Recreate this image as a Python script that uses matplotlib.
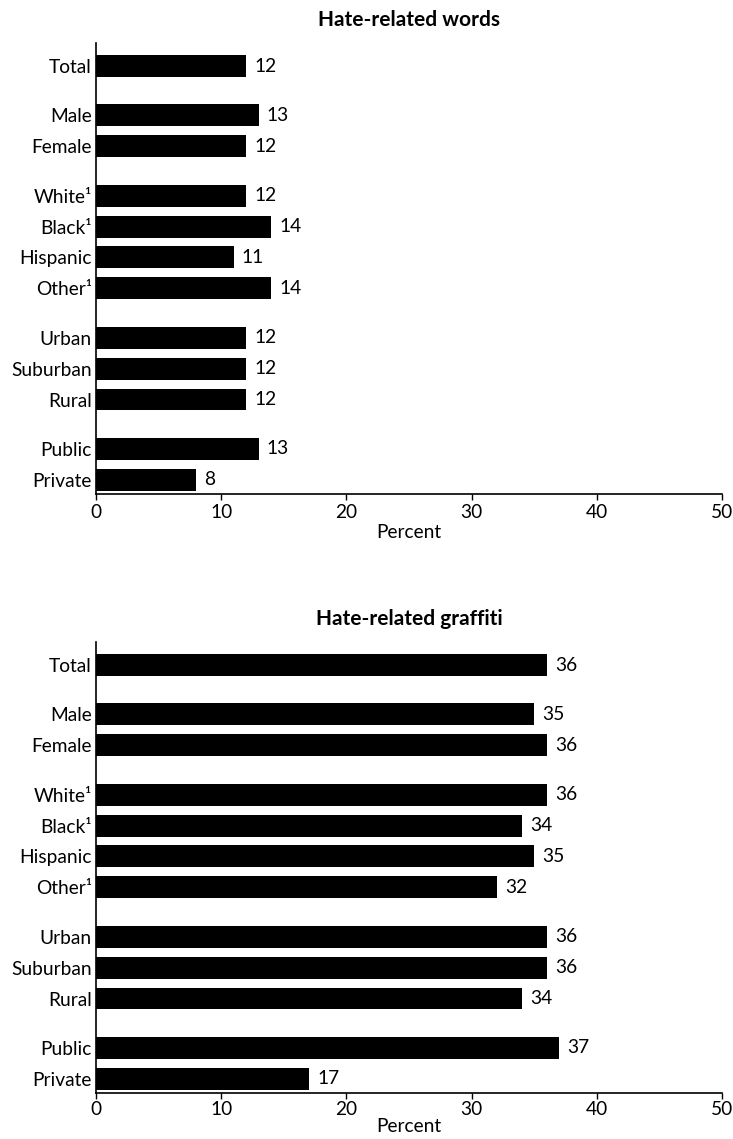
import matplotlib
matplotlib.use("Agg")
import matplotlib.pyplot as plt

plt.rcParams['font.family'] = ['Lato', 'DejaVu Sans']

categories = ["Total", "Male", "Female", "White\u00b9", "Black\u00b9", "Hispanic",
              "Other\u00b9", "Urban", "Suburban", "Rural", "Public", "Private"]
# group index of each category (gaps between groups)
groups = [0, 1, 1, 2, 2, 2, 2, 3, 3, 3, 4, 4]
words = [12, 13, 12, 12, 14, 11, 14, 12, 12, 12, 13, 8]
graffiti = [36, 35, 36, 36, 34, 35, 32, 36, 36, 34, 37, 17]

ticks = [0, 10, 20, 30, 40, 50]

# y positions: one slot per bar, extra 0.6 slot between groups
ypos = [i + 0.6 * g for i, g in enumerate(groups)]

fig = plt.figure(figsize=(7.33, 11.39), dpi=100)
H = 1139.0
W = 733.0


def make_axes(top_px, bottom_px):
    return fig.add_axes([96 / W, (H - bottom_px) / H, 626 / W, (bottom_px - top_px) / H])


panels = [
    (make_axes(43, 494), words, "Hate-related words", 3, 2),
    (make_axes(642, 1093), graffiti, "Hate-related graffiti", 2, 0),
]

fs = 13.8
for ax, vals, title, tpad, lpad in panels:
    ax.barh(ypos, vals, height=0.71, color="black")
    for y, v in zip(ypos, vals):
        ax.text(v + 0.65, y, str(v), va="center", ha="left", fontsize=fs)
    ax.set_xlim(0, 50)
    ax.set_ylim(ypos[-1] + 0.46, -0.745)
    ax.set_yticks(ypos)
    ax.set_yticklabels(categories, fontsize=fs)
    ax.set_xticks(ticks)
    ax.set_xticklabels([str(t) for t in ticks], fontsize=fs)
    ax.tick_params(axis="y", length=0, pad=3)
    ax.tick_params(axis="x", length=4, width=1, pad=tpad)
    for s in ["top", "right"]:
        ax.spines[s].set_visible(False)
    ax.spines["left"].set_linewidth(1.2)
    ax.spines["bottom"].set_linewidth(1.2)
    ax.set_xlabel("Percent", fontsize=fs, labelpad=lpad)
    ax.set_title(title, fontsize=15, fontweight="bold", pad=12)

fig.savefig("out.png", dpi=100)
